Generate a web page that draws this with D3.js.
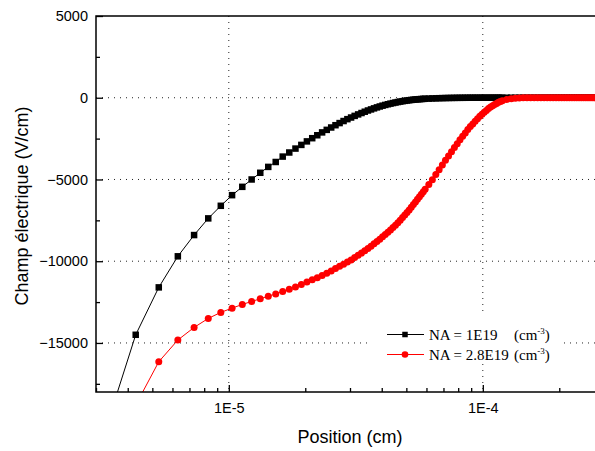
<!DOCTYPE html>
<html>
<head>
<meta charset="utf-8">
<script src="https://cdn.jsdelivr.net/npm/d3@7"></script>
<style>
  body { margin: 0; background: #fff; }
  .axis text { font-family: "Liberation Sans", Arial, sans-serif; font-size: 14.5px; fill: #000; }
  .axis line { stroke: #000; stroke-width: 1.3; }
  .axis path { display: none; }
</style>
</head>
<body>
<div id="chart"></div>
<script>
var svgWidth = 595;
var svgHeight = 451;

var margin = { top: 16, right: -9, bottom: 59, left: 96 };
var width = svgWidth - margin.left - margin.right;
var height = svgHeight - margin.top - margin.bottom;

// position, in units of 1E-6 cm
var position = [
  3.3, 4.3, 5.3, 6.3, 7.3, 8.3, 9.3, 10.3, 11.3, 12.3, 13.3, 14.3, 15.3, 16.3, 17.3, 18.3, 19.3,
  20.3, 21.3, 22.3, 23.3, 24.3, 25.3, 26.3, 27.3, 28.3, 29.3,
  30.3, 31.3, 32.3, 33.3, 34.3, 35.3, 36.3, 37.3, 38.3, 39.3,
  40.3, 41.3, 42.3, 43.3, 44.3, 45.3, 46.3, 47.3, 48.3, 49.3,
  50.3, 51.3, 52.3, 53.3, 54.3, 55.3, 56.3, 57.3, 58.3, 59.3,
  61.3, 63.3, 65.3, 67.3, 69.3, 71.3, 73.3, 75.3, 77.3, 79.3,
  81.3, 83.3, 85.3, 87.3, 89.3, 91.3, 93.3, 95.3, 97.3, 99.3,
  101.3, 103.3, 105.3, 107.3, 109.3, 111.3, 113.3, 115.3, 117.3, 119.3,
  124.3, 129.3, 134.3, 139.3, 144.3, 149.3, 154.3, 159.3, 164.3, 169.3, 174.3, 179.3,
  184.3, 189.3, 194.3, 199.3, 204.3, 209.3, 214.3, 219.3, 224.3, 229.3, 234.3, 239.3,
  244.3, 249.3, 254.3, 259.3, 264.3, 269.3, 274.3, 279.3, 284.3, 289.3, 294.3, 299.3
];

// NA = 1E19 (V/cm)
var field1E19 = [
  -20100, -14500, -11600, -9700, -8400, -7380, -6610,
  -5960, -5450, -5000, -4590, -4230, -3930, -3600, -3350, -3110, -2885,
  -2670, -2475, -2295, -2120, -1965, -1820, -1680, -1550, -1425, -1310,
  -1210, -1110, -1020, -935, -855, -780, -715, -650, -590, -535,
  -485, -440, -398, -360, -325, -293, -263, -236, -211, -189,
  -169, -151, -135, -121, -108, -97, -87, -78, -70, -63,
  -52, -43, -35, -28, -23, -18, -14, -11, -8, -6,
  -4, -3, -2, -1, 0, 0, 0, 0, 0, 0,
  0, 0, 0, 0, 0, 0, 0, 0, 0, 0,
  0, 0, 0, 0, 0, 0, 0, 0, 0, 0, 0, 0,
  0, 0, 0, 0, 0, 0, 0, 0, 0, 0, 0, 0,
  0, 0, 0, 0, 0, 0, 0, 0, 0, 0, 0, 0
];

// NA = 2.8E19 (V/cm)
var field28E19 = [
  -23000, -18800, -16150, -14820, -14050, -13500, -13130, -12870, -12645, -12460,
  -12300, -12140, -12000, -11850, -11710, -11570, -11425,
  -11270, -11130, -11010, -10875, -10735, -10595, -10450, -10310, -10180, -10055,
  -9920, -9780, -9640, -9500, -9360, -9225, -9085, -8935, -8795, -8655,
  -8510, -8370, -8230, -8095, -7940, -7795, -7645, -7490, -7330, -7170,
  -7015, -6870, -6700, -6535, -6375, -6215, -6055, -5905, -5745, -5605,
  -5305, -5010, -4700, -4405, -4110, -3830, -3570, -3305, -3050, -2810,
  -2575, -2360, -2155, -1945, -1760, -1600, -1440, -1285, -1135, -1010,
  -890, -775, -660, -565, -495, -420, -350, -280, -230, -185,
  -105, -55, -25, -10, -4, -1, 0, 0, 0, 0, 0, 0,
  0, 0, 0, 0, 0, 0, 0, 0, 0, 0, 0, 0,
  0, 0, 0, 0, 0, 0, 0, 0, 0, 0, 0, 0
];

var xMajor = [1e-5, 1e-4];
var xMinor = [3e-6, 4e-6, 5e-6, 6e-6, 7e-6, 8e-6, 9e-6, 2e-5, 3e-5, 4e-5, 5e-5, 6e-5, 7e-5, 8e-5, 9e-5, 2e-4, 3e-4];
var yMajor = [-15000, -10000, -5000, 0, 5000];
var yMinor = [-17500, -12500, -7500, -2500, 2500];
var yGrid = [-15000, -10000, -5000, 0];

var seriesNames = ["NA = 1E19", "NA = 2.8E19"];

var svg = d3.select("#chart")
  .append("svg")
  .attr("width", svgWidth)
  .attr("height", svgHeight);

var chartGroup = svg.append("g")
  .attr("transform", `translate(${margin.left}, ${margin.top})`);

var xScale = d3.scaleLog()
  .domain([3e-6, 3e-4])
  .range([0, width]);

var yScale = d3.scaleLinear()
  .domain([-18000, 5000])
  .range([height, 0]);

chartGroup.append("clipPath")
  .attr("id", "plotclip")
  .append("rect")
  .attr("width", width)
  .attr("height", height);

// dotted grid
chartGroup.selectAll(".hgrid")
  .data(yGrid)
  .enter()
  .append("line")
  .attr("x1", 0)
  .attr("x2", width)
  .attr("y1", d => yScale(d))
  .attr("y2", d => yScale(d))
  .attr("stroke", "#222")
  .attr("stroke-dasharray", "1,5");

chartGroup.selectAll(".vgrid")
  .data(xMajor)
  .enter()
  .append("line")
  .attr("x1", d => xScale(d))
  .attr("x2", d => xScale(d))
  .attr("y1", 0)
  .attr("y2", height)
  .attr("stroke", "#222")
  .attr("stroke-dasharray", "1,5");

var data1 = position.map((p, i) => ({ x: p * 1e-6, y: field1E19[i] }));
var data2 = position.map((p, i) => ({ x: p * 1e-6, y: field28E19[i] }));

var line = d3.line()
  .x(d => xScale(d.x))
  .y(d => yScale(d.y));

var plot = chartGroup.append("g").attr("clip-path", "url(#plotclip)");

plot.append("path")
  .datum(data1)
  .attr("fill", "none")
  .attr("stroke", "#000")
  .attr("stroke-width", 1)
  .attr("d", line);

plot.append("path")
  .datum(data2)
  .attr("fill", "none")
  .attr("stroke", "#ff0000")
  .attr("stroke-width", 1)
  .attr("d", line);

plot.selectAll(".sq")
  .data(data1)
  .enter()
  .append("rect")
  .attr("x", d => xScale(d.x) - 3.25)
  .attr("y", d => yScale(d.y) - 3.25)
  .attr("width", 6.5)
  .attr("height", 6.5)
  .attr("fill", "#000");

plot.selectAll(".dot")
  .data(data2)
  .enter()
  .append("circle")
  .attr("cx", d => xScale(d.x))
  .attr("cy", d => yScale(d.y))
  .attr("r", 3.5)
  .attr("fill", "#ff0000");

// frame
chartGroup.append("rect")
  .attr("width", width)
  .attr("height", height)
  .attr("fill", "none")
  .attr("stroke", "#000")
  .attr("stroke-width", 1.5);

// axes, ticks pointing inward
chartGroup.append("g")
  .classed("axis", true)
  .attr("transform", `translate(0, ${height})`)
  .call(d3.axisBottom(xScale).tickValues(xMajor).tickSizeInner(-7).tickSizeOuter(0).tickPadding(11)
    .tickFormat(d => d === 1e-5 ? "1E-5" : "1E-4"));

chartGroup.append("g")
  .classed("axis", true)
  .attr("transform", `translate(0, ${height})`)
  .call(d3.axisBottom(xScale).tickValues(xMinor).tickSizeInner(-4).tickSizeOuter(0).tickFormat(""));

chartGroup.append("g")
  .classed("axis", true)
  .call(d3.axisLeft(yScale).tickValues(yMajor).tickSizeInner(-7).tickSizeOuter(0).tickPadding(8)
    .tickFormat(d3.format("d")));

chartGroup.append("g")
  .classed("axis", true)
  .call(d3.axisLeft(yScale).tickValues(yMinor).tickSizeInner(-4).tickSizeOuter(0).tickFormat(""));

// axis titles
svg.append("text")
  .attr("x", 350)
  .attr("y", 443)
  .attr("text-anchor", "middle")
  .attr("font-family", "Liberation Sans, Arial, sans-serif")
  .attr("font-size", "18px")
  .text("Position (cm)");

svg.append("text")
  .attr("transform", "translate(28, 206) rotate(-90)")
  .attr("text-anchor", "middle")
  .attr("font-family", "Liberation Sans, Arial, sans-serif")
  .attr("font-size", "18px")
  .text("Champ électrique (V/cm)");

// legend
var legend = svg.append("g");

legend.append("rect")
  .attr("x", 372)
  .attr("y", 314)
  .attr("width", 190)
  .attr("height", 50)
  .attr("fill", "#fff");

var legendY = [334.5, 354.5];
var legendColors = ["#000", "#ff0000"];

legendY.forEach(function(ly, i) {
  legend.append("line")
    .attr("x1", 387).attr("x2", 424)
    .attr("y1", ly).attr("y2", ly)
    .attr("stroke", legendColors[i])
    .attr("stroke-width", 1);

  if (i === 0) {
    legend.append("rect")
      .attr("x", 405 - 2.75).attr("y", ly - 2.75)
      .attr("width", 5.5).attr("height", 5.5)
      .attr("fill", "#000");
  } else {
    legend.append("circle")
      .attr("cx", 405).attr("cy", ly)
      .attr("r", 3.3)
      .attr("fill", "#ff0000");
  }

  legend.append("text")
    .attr("x", 429)
    .attr("y", ly + 5)
    .attr("font-family", "Liberation Serif, Times New Roman, serif")
    .attr("font-size", "15px")
    .text(seriesNames[i]);

  var unit = legend.append("text")
    .attr("x", 514)
    .attr("y", ly + 5)
    .attr("font-family", "Liberation Serif, Times New Roman, serif")
    .attr("font-size", "15px");
  unit.append("tspan").text("(cm");
  unit.append("tspan").attr("font-size", "9px").attr("dy", -6).text("-3");
  unit.append("tspan").attr("dy", 6).text(")");
});
</script>
</body>
</html>
